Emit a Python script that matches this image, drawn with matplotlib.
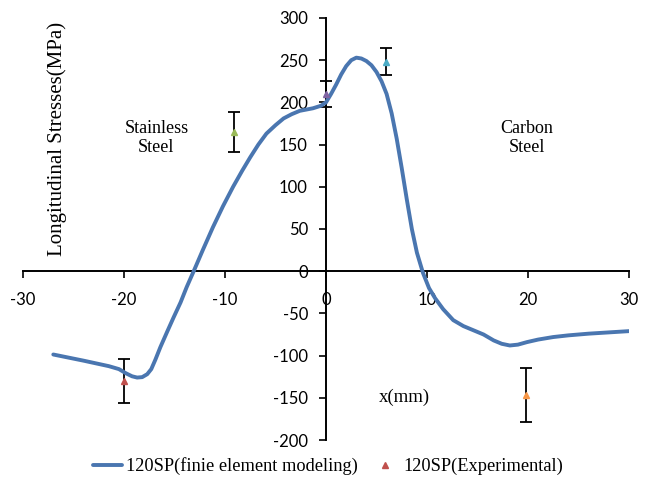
import numpy as np
import matplotlib.pyplot as plt

plt.rcParams['axes.unicode_minus'] = False

# finite element curve
x_fe = [-27, -24, -21.5, -20.5, -19.8, -19.2, -18.7, -18.2, -17.7, -17.3, -16.9,
        -16.4, -15.7, -15.1, -14.4, -13.8, -13.1, -12.2, -11.2, -10.2, -9.2,
        -8.3, -7.5, -6.7, -5.9, -5.0, -4.2, -3.4, -2.6, -1.3, -0.5, 0, 0.5, 1.0,
        1.5, 2.0, 2.5, 3.0, 3.5, 4.0, 4.5, 5.0, 5.5, 6.0, 6.5, 7.0, 7.5, 8.0,
        8.5, 9.0, 9.6, 10.2, 10.8, 11.6, 12.6, 13.6, 14.6, 15.6, 16.6, 17.4,
        18.2, 19.0, 19.9, 21, 22.5, 24, 26, 28, 30]
y_fe = [-98.7, -106, -112.5, -116, -121, -124.5, -126, -125.5, -122, -116, -105,
        -90, -71, -55, -37, -19, 0, 25, 52, 77, 100,
        119, 135, 150, 163, 173, 181, 186, 190, 193, 196, 200, 210, 221,
        233, 243, 250, 253, 252, 249, 244, 236, 225, 210, 187, 157, 122, 85,
        50, 22, -2, -20, -32, -45, -58, -65, -70, -75, -82, -86,
        -88, -87, -84, -81, -78, -76, -74, -72.5, -71]

# experimental points
x_exp = [-20, -9.1, 0, 5.9, 19.8]
y_exp = [-130, 165, 210, 248, -147]
err_exp = [26, 24, 15, 16, 32]
exp_colors = ['#C0504D', '#9BBB59', '#8064A2', '#4BACC6', '#F79646']

xticks = [-30, -20, -10, 0, 10, 20, 30]
yticks = [-200, -150, -100, -50, 0, 50, 100, 150, 200, 250, 300]

fig = plt.figure(figsize=(6.46, 4.82), dpi=100)
ax = fig.add_axes([0.0356, 0.0871, 0.9381, 0.8756])

ax.plot(x_fe, y_fe, color='#4A76B0', lw=2.8, solid_capstyle='round',
        solid_joinstyle='round', label='120SP(finie element modeling)', zorder=3)

for xi, yi, ei, c in zip(x_exp, y_exp, err_exp, exp_colors):
    ax.errorbar(xi, yi, yerr=ei, fmt='none', ecolor='black', elinewidth=1.3,
                capsize=4, capthick=1.3, zorder=2)
    ax.plot(xi, yi, marker='^', color=c, ms=5, ls='none', zorder=4)
# legend entry for experiment
ax.plot([], [], marker='^', color='#C0504D', ms=4, ls='none',
        label='120SP(Experimental)')

ax.set_xlim(-30, 30)
ax.set_ylim(-200, 300)
ax.set_xticks(xticks)
ax.set_yticks(yticks)

for s in ['top', 'right']:
    ax.spines[s].set_visible(False)
ax.spines['left'].set_position(('data', 0))
ax.spines['bottom'].set_position(('data', 0))
ax.spines['left'].set_linewidth(1.4)
ax.spines['bottom'].set_linewidth(1.4)
ax.tick_params(axis='both', direction='out', length=5, width=1.2,
               labelsize=12, pad=8)
for lab in ax.get_xticklabels() + ax.get_yticklabels():
    lab.set_family('Lato')
ax.tick_params(axis='x', pad=10)

serif = 'Liberation Serif'
fig.text(0.088, 0.711, 'Longitudinal Stresses(MPa)', rotation=90,
         ha='center', va='center', family=serif, fontsize=15)
ax.text(-16.8, 158, 'Stainless\nSteel', ha='center', va='center',
        family=serif, fontsize=13, linespacing=1.2)
ax.text(19.9, 158, 'Carbon\nSteel', ha='center', va='center',
        family=serif, fontsize=13, linespacing=1.2)
ax.text(7.8, -150, 'x(mm)', ha='center', va='center',
        family=serif, fontsize=13.5)

leg = fig.legend(loc='center', bbox_to_anchor=(0.508, 0.033), ncol=2,
                 frameon=False, prop={'family': serif, 'size': 13.2},
                 handlelength=1.6, handletextpad=0.2, columnspacing=0.7)

fig.savefig('out.png', dpi=100)
